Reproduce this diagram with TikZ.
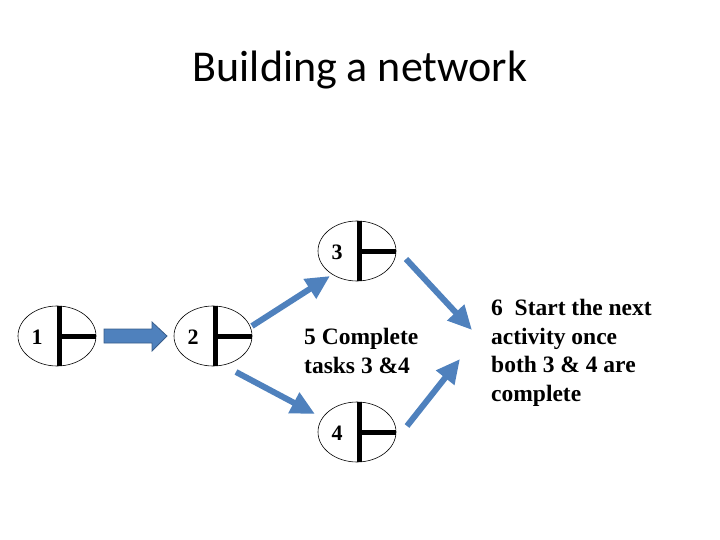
\documentclass[tikz,border=0pt]{standalone}
\usepackage{fontspec}
\setmainfont{Liberation Serif}
\newfontfamily\titlefont{Carlito}
\usetikzlibrary{arrows.meta,shapes.geometric,calc}
\definecolor{arrowblue}{RGB}{79,129,189}
\definecolor{arrowedge}{RGB}{56,93,138}
\tikzset{
  evt/.style={draw=black, line width=0.6pt, ellipse, minimum width=78pt, minimum height=60pt, inner sep=0pt},
  bar/.style={line width=5pt, black},
  flow/.style={arrowblue, line width=6pt, -{Triangle[width=22pt,length=24pt]}},
  lbl/.style={font=\fontsize{23.5}{28.5}\selectfont\bfseries, anchor=west, align=left, inner sep=0pt},
  num/.style={font=\fontsize{22}{24}\selectfont\bfseries, inner sep=0pt}
}
\begin{document}
\begin{tikzpicture}[x=1pt,y=-1pt]
\useasboundingbox (0,0) rectangle (720,540);
\node[font=\titlefont\fontsize{44}{50}\selectfont] (title) at (360,70) {Building a network};
% events
\foreach \n/\cx/\cy in {1/57/336, 2/213/336, 3/357/251, 4/357/432}{
  \node[evt] (e\n) at (\cx,\cy) {};
  \draw[bar] ([xshift=2pt]e\n.north) -- ([xshift=2pt]e\n.south);
  \draw[bar] ([xshift=2pt]e\n.center) -- (e\n.east);
  \node[num] at ([xshift=-20pt,yshift=-1pt]e\n.center) {\n};
}
% texts
\node[lbl] (t5) at (304,351) {5 Complete\\tasks 3 \&4};
\node[lbl] (t6) at (491,353) {6\ \ Start the next\\activity once\\both 3 \& 4 are\\complete};
% block arrow 1 -> 2
\coordinate (a1) at (104,336);
\coordinate (a2) at (167,336);
\draw[fill=arrowblue, draw=arrowedge, line width=0.8pt]
  ($(a1)+(0,-7)$) -- (152,329) -- (152,322) -- (a2) -- (152,351) -- (152,343) -- ($(a1)+(0,7)$) -- cycle;
% thin arrows
\coordinate (s23) at (252,326); \coordinate (p23) at (330,276);
\coordinate (s24) at (236,372); \coordinate (p24) at (315,414);
\coordinate (s36) at (406,259); \coordinate (p36) at (472,330);
\coordinate (s46) at (407,426); \coordinate (p46) at (460,359);
\draw[flow] (s23) -- (p23);
\draw[flow] (s24) -- (p24);
\draw[flow] (s36) -- (p36);
\draw[flow] (s46) -- (p46);
\end{tikzpicture}
\end{document}
